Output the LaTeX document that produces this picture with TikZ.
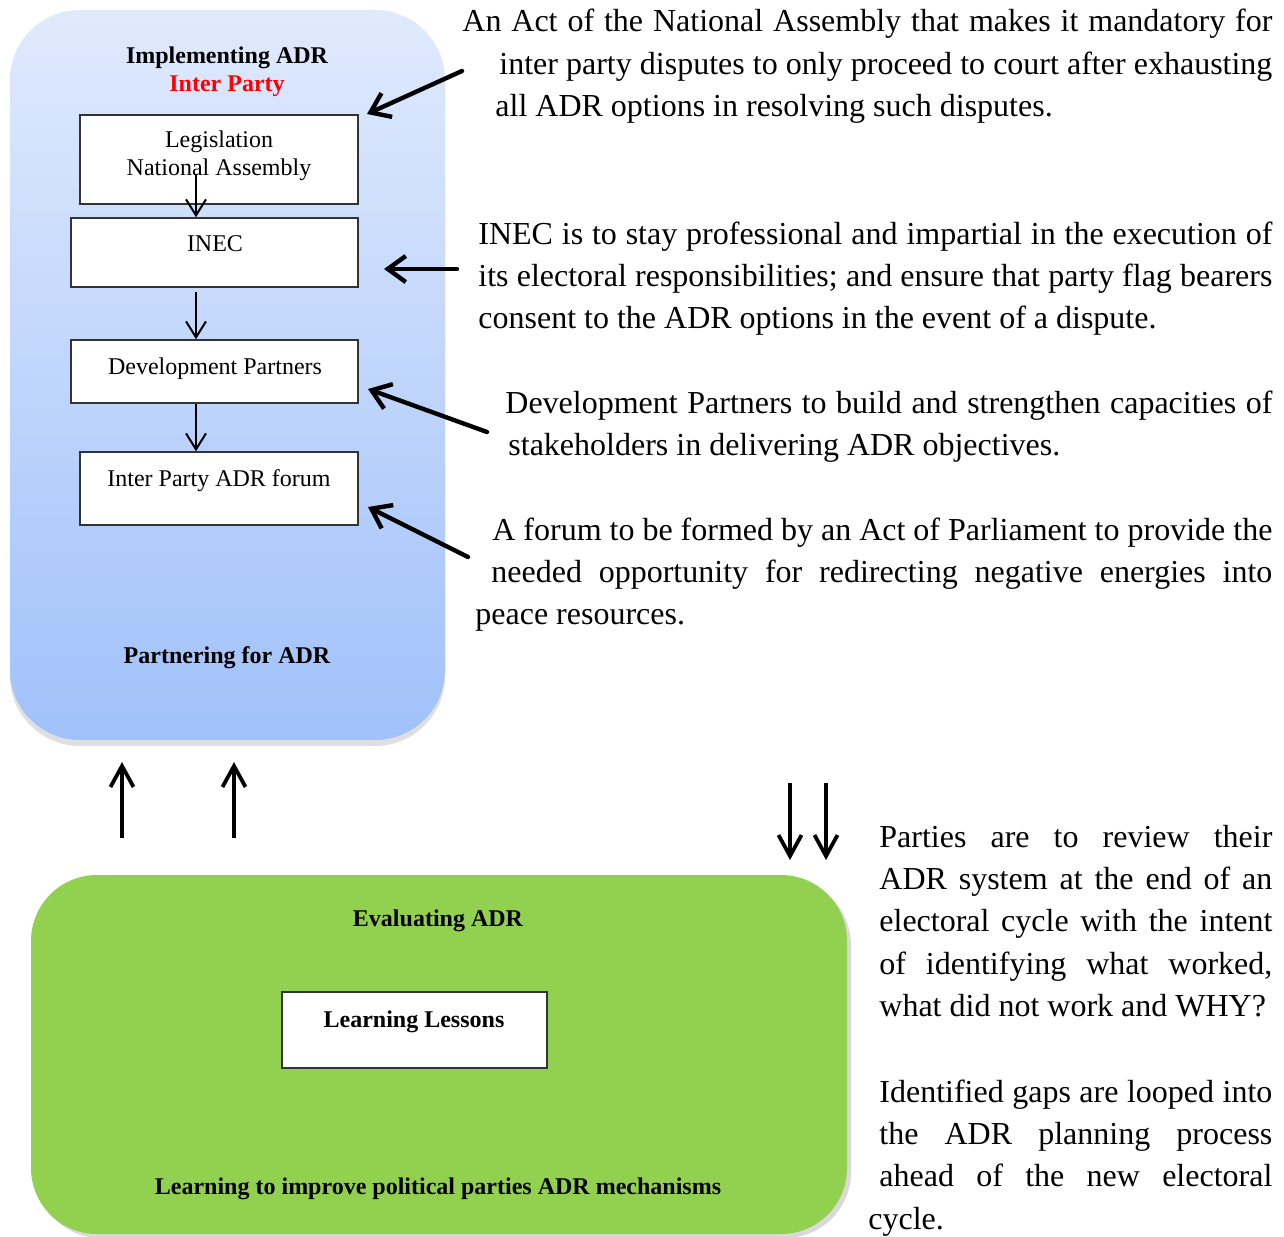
\documentclass[tikz,border=0pt]{standalone}
\usepackage{fontspec}
\setmainfont{Liberation Serif}
\usetikzlibrary{arrows.meta,shadows,fit}
\definecolor{bluetop}{RGB}{224,234,253}
\definecolor{bluebot}{RGB}{160,193,250}
\definecolor{grn}{RGB}{146,208,80}
\newcommand\rpara[2]{\vtop{\hsize=#1\relax\parindent=0pt\fontsize{16pt}{21.2pt}\selectfont\hyphenpenalty=10000\hbadness=10000\tolerance=10000 #2\par}}
\begin{document}
\begin{tikzpicture}[x=0.5pt,y=-0.5pt,
  box/.style={draw=black!80, line width=0.75pt, fill=white, inner sep=0pt},
  lbl/.style={inner sep=0pt, font=\fontsize{12pt}{14pt}\selectfont},
  blbl/.style={inner sep=0pt, font=\fontsize{12pt}{14pt}\selectfont\bfseries},
  thinarrow/.style={line width=1pt, -{Straight Barb[length=8pt,width=10pt]}},
  fatarrow/.style={line width=2.2pt, line cap=round, -{Straight Barb[length=9pt,width=13pt]}},
  vertarrow/.style={line width=1.9pt, -{Straight Barb[length=10.5pt,width=11.5pt]}},
  para/.style={anchor=base west, inner sep=0pt}]
\useasboundingbox (0,0) rectangle (1284,1236);

% upper panel
\node[fit={(10,10)(445,740)}, inner sep=0pt, rounded corners=35pt, top color=bluetop, bottom color=bluebot,
      drop shadow={shadow xshift=0pt, shadow yshift=-3pt, opacity=0.25}] (impl) {};
\node[blbl, anchor=base] (t1) at (227,64) {Implementing ADR};
\node[blbl, anchor=base] (t2) at (227,92) {\textcolor{red}{Inter Party}};

\node[box, fit={(80,115)(358,204)}] (leg) {};
\node[lbl, anchor=base] (legt) at (219,148) {Legislation};
\node[lbl, anchor=base] (legt2) at (219,176) {National Assembly};

\node[box, fit={(71,218)(358,287)}] (inec) {};
\node[lbl, anchor=base] (inect) at (215,251) {INEC};

\node[box, fit={(71,340)(358,403)}] (dev) {};
\node[lbl, anchor=base] (devt) at (215,374) {Development Partners};

\node[box, fit={(80,452)(358,525)}] (forum) {};
\node[lbl, anchor=base] (forumt) at (219,486) {Inter Party ADR forum};

\node[blbl, anchor=base] (t3) at (227,663) {Partnering for ADR};

\coordinate (a0) at (196,175);
\coordinate (a1) at (196,292);
\draw[thinarrow] (a0) -- (a0 |- inec.north);
\draw[thinarrow] (a1) -- (a1 |- dev.north);
\draw[thinarrow] (dev.south -| a1) -- (forum.north -| a1);

% pointer arrows
\coordinate (s1) at (462,71);  \coordinate (e1) at (367,114);
\coordinate (s2) at (457,269); \coordinate (e2) at (384,269);
\coordinate (s3) at (487,432); \coordinate (e3) at (368,389);
\coordinate (s4) at (468,557); \coordinate (e4) at (368,507);
\draw[fatarrow] (s1) -- (e1);
\draw[fatarrow] (s2) -- (e2);
\draw[fatarrow] (s3) -- (e3);
\draw[fatarrow] (s4) -- (e4);

% right texts
\node[para] (p1) at (462,32) {\rpara{405pt}{\parshape 3 0pt 405pt 18.5pt 386.5pt 16.5pt 388.5pt
An Act of the National Assembly that makes it mandatory for\linebreak
inter party disputes to only proceed to court after exhausting\linebreak
all ADR options in resolving such disputes.}};

\node[para] (p2) at (478,244) {\rpara{397pt}{INEC is to stay professional and impartial in the execution of\linebreak
its electoral responsibilities; and ensure that party flag bearers\linebreak
consent to the ADR options in the event of a dispute.}};

\node[para] (p3) at (505,413) {\rpara{383.5pt}{\parshape 2 0pt 383.5pt 1.5pt 382pt
Development Partners to build and strengthen capacities of\linebreak
stakeholders in delivering ADR objectives.}};

\node[para] (p4) at (475,540) {\rpara{398.5pt}{\parshape 3 8.5pt 390pt 8pt 390.5pt 0pt 398.5pt
A forum to be formed by an Act of Parliament to provide the\linebreak
needed opportunity for redirecting negative energies into\linebreak
peace resources.}};

% loop arrows
\coordinate (u1s) at (122,838); \coordinate (u1e) at (122,762);
\coordinate (u2s) at (234,838); \coordinate (u2e) at (234,762);
\coordinate (d1s) at (790,783); \coordinate (d1e) at (790,860);
\coordinate (d2s) at (826,783); \coordinate (d2e) at (826,860);
\draw[vertarrow] (u1s) -- (u1e);
\draw[vertarrow] (u2s) -- (u2e);
\draw[vertarrow] (d1s) -- (d1e);
\draw[vertarrow] (d2s) -- (d2e);

% lower panel
\node[fit={(31,875)(847,1234)}, inner sep=0pt, rounded corners=33pt, fill=grn,
      drop shadow={shadow xshift=2pt, shadow yshift=-2pt, opacity=0.3}] (eval) {};
\node[blbl, anchor=base] (t4) at (438,926) {Evaluating ADR};
\node[box, fit={(282,992)(547,1068)}] (learn) {};
\node[blbl, anchor=base] (learnt) at (414,1027) {Learning Lessons};
\node[blbl, anchor=base] (t5) at (438,1194) {Learning to improve political parties ADR mechanisms};

\node[para] (p5) at (879,847) {\rpara{196.5pt}{Parties are to review their\linebreak
ADR system at the end of an\linebreak
electoral cycle with the intent\linebreak
of identifying what worked,\linebreak
what did not work and WHY?}};

\node[para] (p6) at (868,1102) {\rpara{202pt}{\parshape 4 5.5pt 196.5pt 5.5pt 196.5pt 5.5pt 196.5pt 0pt 202pt
Identified gaps are looped into\linebreak
the ADR planning process\linebreak
ahead of the new electoral\linebreak
cycle.}};
\end{tikzpicture}
\end{document}
